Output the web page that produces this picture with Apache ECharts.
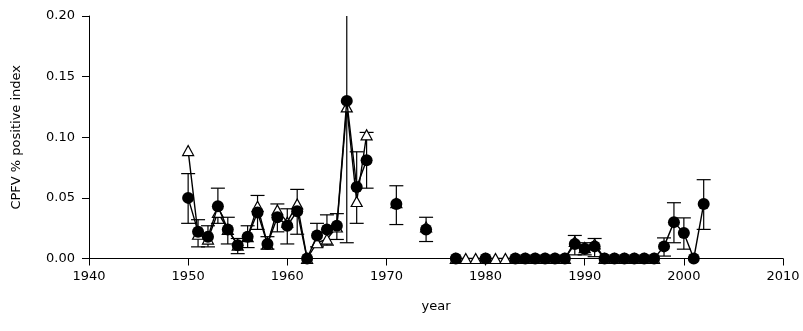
<!DOCTYPE html>
<html>
<head>
<meta charset="utf-8">
<script src="https://cdn.jsdelivr.net/npm/echarts@6/dist/echarts.min.js"></script>
<style>html,body{margin:0;padding:0;background:#fff}#c{width:803px;height:331px}</style>
</head>
<body>
<div id="c"></div>
<script>
const years = [1950,1951,1952,1953,1954,1955,1956,1957,1958,1959,1960,1961,1962,1963,1964,1965,1966,1967,1968,1969,1970,1971,1972,1973,1974,1975,1976,1977,1978,1979,1980,1981,1982,1983,1984,1985,1986,1987,1988,1989,1990,1991,1992,1993,1994,1995,1996,1997,1998,1999,2000,2001,2002];
const circleValues = [0.050,0.022,0.018,0.043,0.024,0.011,0.018,0.038,0.012,0.034,0.027,0.039,0.000,0.019,0.024,0.027,0.130,0.059,0.081,null,null,0.045,null,null,0.024,null,null,0,null,null,0,null,null,0,0,0,0,0,0,0.012,0.008,0.010,0,0,0,0,0,0,0.010,0.030,0.021,0,0.045];
const triangleValues = [0.089,0.020,0.016,0.038,0.024,0.011,0.018,0.043,0.012,0.040,0.030,0.045,0,0.013,0.016,0.026,0.125,0.047,0.102,null,null,0.046,null,null,0.026,null,null,0,0,0,0,0,0,0,0,0,0,0,0,0.014,0.009,0.012,0,0,0,0,0,0,null,null,null,null,null];
const errLow  = [0.029,0.0096,0.0096,0.029,0.012,0.004,0.009,0.024,0.0077,0.022,0.012,0.020,null,0.0096,0.011,0.0157,0.013,0.029,0.058,null,null,0.028,null,null,0.014,null,null,null,null,null,null,null,null,null,null,null,null,null,null,0.003,0.003,0.0015,null,null,null,null,null,null,0.002,0.013,0.0077,null,0.024];
const errHigh = [0.070,0.032,0.027,0.058,0.034,0.0165,0.027,0.052,0.018,0.045,0.041,0.057,null,0.029,0.036,0.037,0.25,0.088,0.104,null,null,0.060,null,null,0.034,null,null,null,null,null,null,null,null,null,null,null,null,null,null,0.019,0.013,0.0165,null,null,null,null,null,null,0.017,0.046,0.0335,null,0.065];
const xTicks = [1940,1950,1960,1970,1980,1990,2000,2010];
const yTicks = [0,0.05,0.10,0.15,0.20];

const circleData = years.map((y,i)=>[y, circleValues[i]]);
const triData = years.map((y,i)=>[y, triangleValues[i]]);
const errData = [];
years.forEach((y,i)=>{ if(errLow[i]!==null && errHigh[i]!==null) errData.push([y, errLow[i], errHigh[i]]); });

const yMax = yTicks[yTicks.length-1];
const chart = echarts.init(document.getElementById('c'), null, {renderer:'canvas'});
const font = 'DejaVu Sans, sans-serif';
chart.setOption({
  animation:false,
  backgroundColor:'#fff',
  grid:{left:89, right:20, top:16, bottom:72.5},
  xAxis:{
    type:'value', min:xTicks[0], max:xTicks[xTicks.length-1], interval:10,
    name:'year', nameLocation:'middle', nameGap:42,
    nameTextStyle:{fontFamily:font, fontSize:13, color:'#000'},
    axisLine:{show:true, onZero:false, lineStyle:{color:'#000', width:1}},
    axisTick:{show:true, inside:false, length:7, lineStyle:{color:'#000'}},
    axisLabel:{fontFamily:font, fontSize:13, color:'#000', margin:12, formatter:v=>String(v)},
    splitLine:{show:false}
  },
  yAxis:{
    type:'value', min:0, max:yMax, interval:0.05,
    name:'CPFV % positive index', nameLocation:'middle', nameGap:66,
    nameTextStyle:{fontFamily:font, fontSize:13, color:'#000'},
    axisLine:{show:true, lineStyle:{color:'#000', width:1}},
    axisTick:{show:true, length:7, lineStyle:{color:'#000'}},
    axisLabel:{fontFamily:font, fontSize:13, color:'#000', margin:14, formatter:v=>v.toFixed(2)},
    splitLine:{show:false}
  },
  series:[
    {
      type:'custom', z:1,
      renderItem:function(params, api){
        const x = api.value(0), lo = api.value(1), hi = api.value(2);
        const hiC = Math.min(hi, yMax);
        const pLo = api.coord([x, lo]);
        const pHi = api.coord([x, hiC]);
        const hw = 7;
        const children = [
          {type:'line', shape:{x1:pLo[0], y1:pLo[1], x2:pHi[0], y2:pHi[1]}, style:{stroke:'#000', lineWidth:1.2}},
          {type:'line', shape:{x1:pLo[0]-hw, y1:pLo[1], x2:pLo[0]+hw, y2:pLo[1]}, style:{stroke:'#000', lineWidth:1.2}}
        ];
        if (hi <= yMax) children.push({type:'line', shape:{x1:pHi[0]-hw, y1:pHi[1], x2:pHi[0]+hw, y2:pHi[1]}, style:{stroke:'#000', lineWidth:1.2}});
        return {type:'group', children:children};
      },
      encode:{x:0, y:[1,2]},
      data:errData
    },
    {
      type:'line', z:2, data:triData, connectNulls:false,
      symbol:'triangle', symbolSize:[11,10], showSymbol:true,
      lineStyle:{color:'#000', width:1.4},
      itemStyle:{color:'#fff', borderColor:'#000', borderWidth:1.2}
    },
    {
      type:'line', z:3, data:circleData, connectNulls:false,
      symbol:'circle', symbolSize:12, showSymbol:true,
      lineStyle:{color:'#000', width:1.4},
      itemStyle:{color:'#000', borderColor:'#000', borderWidth:0}
    }
  ]
});
</script>
</body>
</html>
